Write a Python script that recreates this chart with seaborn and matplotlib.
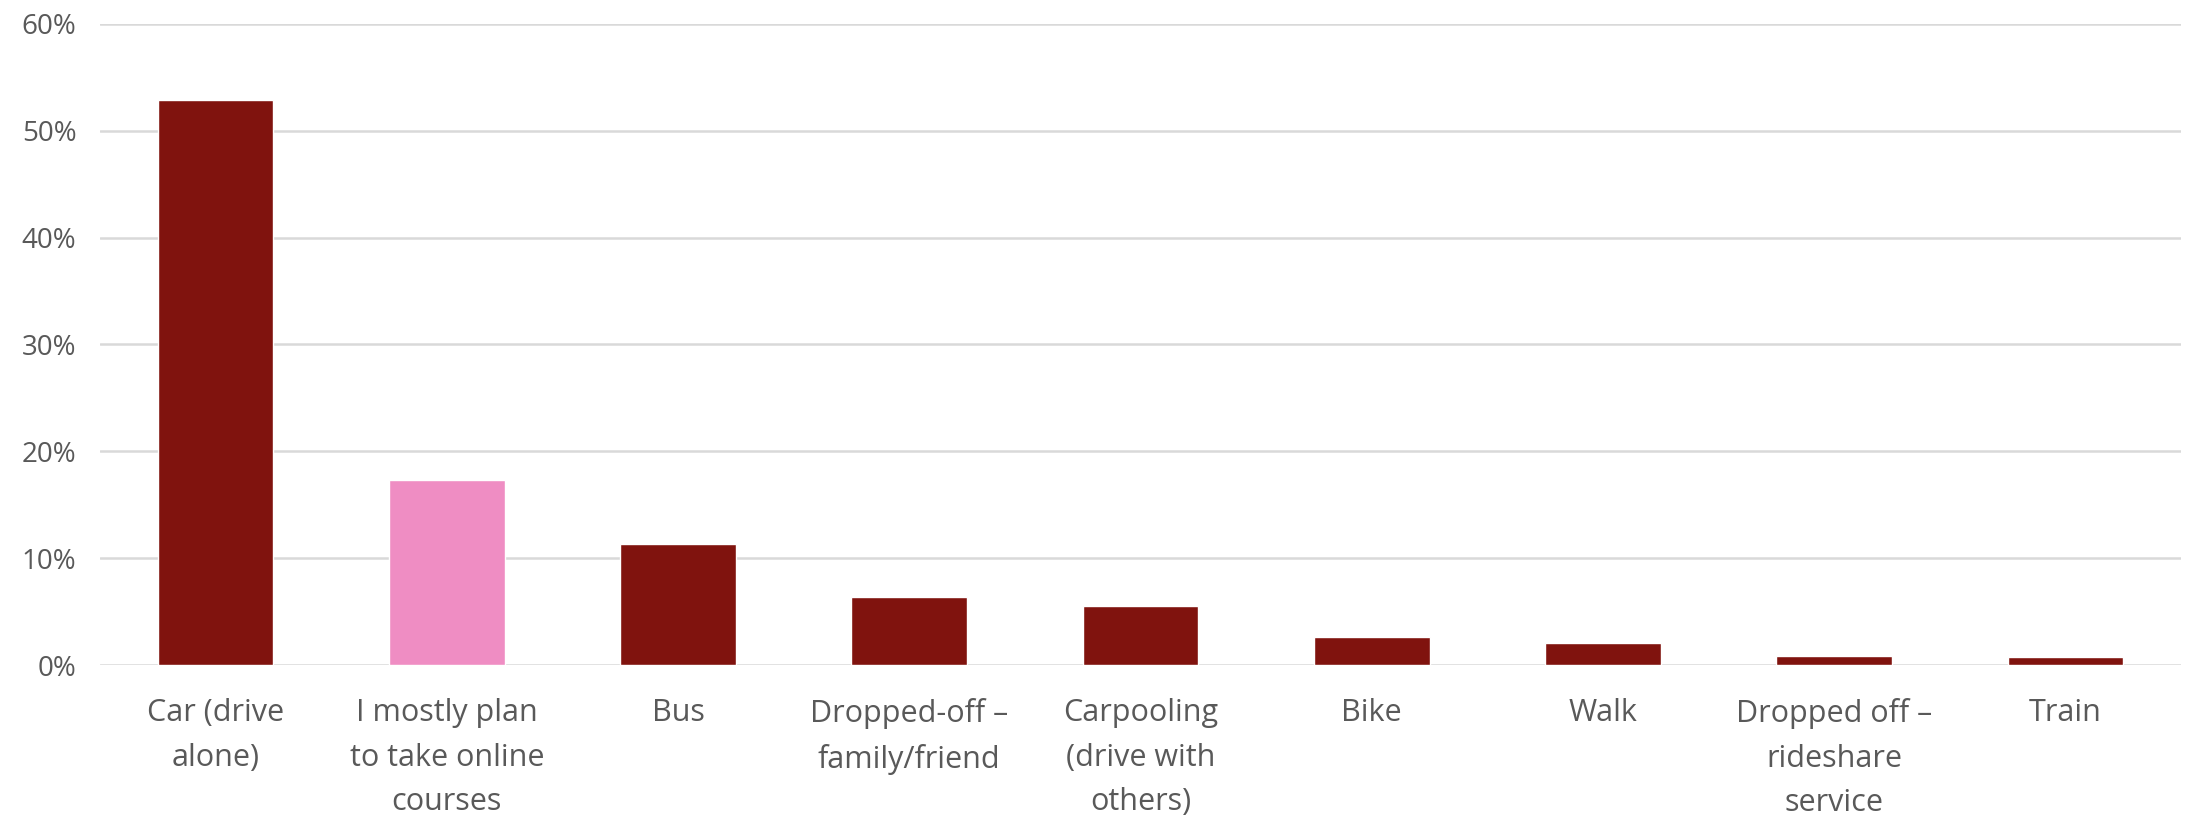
import matplotlib
matplotlib.use('Agg')
import matplotlib.pyplot as plt
import matplotlib.ticker as mtick
import seaborn as sns

# survey answers, share of respondents
categories = [
    "Car (drive\nalone)",
    "I mostly plan\nto take online\ncourses",
    "Bus",
    "Dropped-off –\nfamily/friend",
    "Carpooling\n(drive with\nothers)",
    "Bike",
    "Walk",
    "Dropped off –\nrideshare\nservice",
    "Train",
]
shares = [0.529, 0.173, 0.113, 0.064, 0.055, 0.026, 0.021, 0.0087, 0.0075]
bar_colors = ["#80130E", "#EF8DC3", "#80130E", "#80130E", "#80130E",
              "#80130E", "#80130E", "#80130E", "#80130E"]
yticks = [0.0, 0.1, 0.2, 0.3, 0.4, 0.5, 0.6]

sns.set_theme(style="white")
plt.rcParams['font.family'] = ['Open Sans', 'DejaVu Sans']

fig = plt.figure(figsize=(21.85, 8.22), dpi=100)
ax = fig.add_axes([100 / 2185, 1 - 665 / 822, 2081 / 2185, 641 / 822])

sns.barplot(x=categories, y=shares, hue=categories, palette=bar_colors,
            legend=False, width=0.5, saturation=1, ax=ax, zorder=3)

ax.set_ylim(0, 0.6)
ax.set_xlim(-0.5, len(categories) - 0.5)
ax.set_yticks(yticks)
ax.yaxis.set_major_formatter(mtick.PercentFormatter(1.0, decimals=0))
ax.grid(axis='y', color='#D9D9D9', linewidth=1.8, zorder=0)
ax.set_axisbelow(True)
for s in ax.spines.values():
    s.set_visible(False)

ax.tick_params(axis='y', length=0, pad=17, labelsize=20, labelcolor='#595959')
ax.tick_params(axis='x', length=0, pad=24, labelsize=22, labelcolor='#595959')
for lbl in ax.get_xticklabels():
    lbl.set_linespacing(1.62)
ax.set_xlabel('')
ax.set_ylabel('')

plt.savefig('out.png', dpi=100)
plt.close()
